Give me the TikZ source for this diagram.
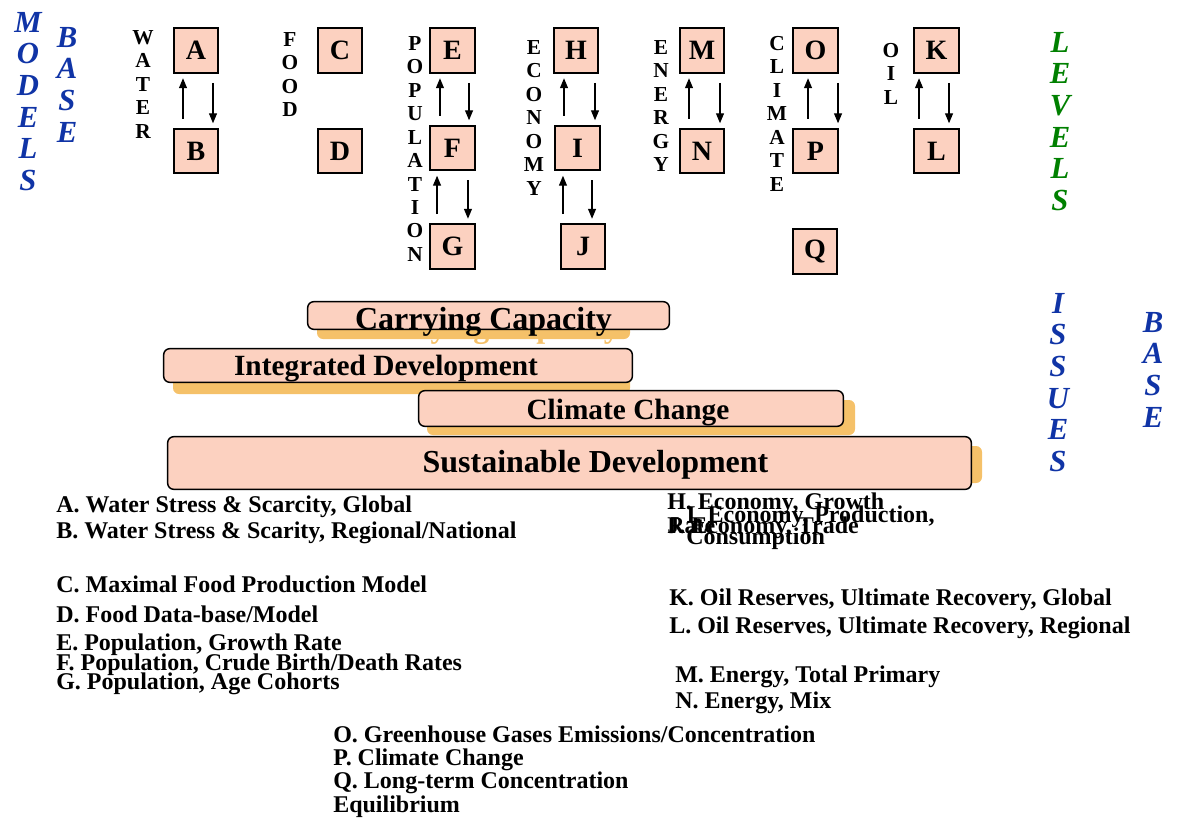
\documentclass[tikz,border=0pt]{standalone}
\usepackage{fontspec}
\setmainfont{Liberation Serif}
\usetikzlibrary{arrows.meta, positioning}
\definecolor{boxfill}{RGB}{252,209,192}
\definecolor{shadowfill}{RGB}{245,193,105}
\definecolor{baseblue}{RGB}{16,52,166}
\definecolor{levelgreen}{RGB}{0,128,0}

\begin{document}
\begin{tikzpicture}[
  x=0.75pt, y=-0.75pt,
  model/.style={rectangle, draw=black, line width=1.2pt, fill=boxfill, minimum size=33.4pt,
                inner sep=0pt, font=\fontsize{21}{21}\selectfont\bfseries},
  sector/.style={anchor=north, inner sep=0pt, align=center, font=\fontsize{16}{17.6}\selectfont\bfseries},
  axis/.style={anchor=north, inner sep=0pt, align=center, font=\fontsize{23}{23.7}\selectfont\bfseries\itshape},
  bar/.style={rectangle, draw=black, line width=1.1pt, fill=boxfill, rounded corners=4.5pt, inner sep=0pt},
  bartext/.style={anchor=base, inner sep=0pt},
  legend/.style={anchor=base west, inner sep=0pt, font=\fontsize{18}{18}\selectfont\bfseries},
  arrow/.style={-{Triangle[length=7.5pt, width=6pt]}, line width=0.9pt, shorten <=7pt, shorten >=3.5pt}
]
\useasboundingbox (0,0) rectangle (1178,821);

% side titles
\node[axis, text=baseblue] (models) at (28,12) {M\\O\\D\\E\\L\\S};
\node[axis, text=baseblue] (mbase) at (67,27) {B\\A\\S\\E};
\node[axis, text=levelgreen] (levels) at (1060,32) {L\\E\\V\\E\\L\\S};
\node[axis, text=baseblue] (issues) at (1058,293) {I\\S\\S\\U\\E\\S};
\node[axis, text=baseblue] (ibase) at (1153,312) {B\\A\\S\\E};

% sectors
\node[sector] (water) at (143,30) {W\\A\\T\\E\\R};
\node[sector] (food) at (290,32) {F\\O\\O\\D};
\node[sector] (pop) at (415,36) {P\\O\\P\\U\\L\\A\\T\\I\\O\\N};
\node[sector] (econ) at (534,40) {E\\C\\O\\N\\O\\M\\Y};
\node[sector] (energy) at (661,40) {E\\N\\E\\R\\G\\Y};
\node[sector] (climate) at (777,36) {C\\L\\I\\M\\A\\T\\E};
\node[sector] (oil) at (891,43) {O\\I\\L};

% models
\node[model] (A) at (196,50.5) {A};
\node[model] (B) at (196,151) {B};
\node[model] (C) at (340,50.5) {C};
\node[model] (D) at (340,151) {D};
\node[model] (E) at (452.5,50.5) {E};
\node[model] (F) at (452.5,148) {F};
\node[model] (G) at (452.5,246.5) {G};
\node[model] (H) at (576,50.5) {H};
\node[model] (I) at (577.5,148) {I};
\node[model] (J) at (583,246.5) {J};
\node[model] (M) at (702,50.5) {M};
\node[model] (N) at (702,151) {N};
\node[model] (O) at (815.5,50.5) {O};
\node[model] (P) at (815.5,151) {P};
\node[model] (Q) at (815,251.5) {Q};
\node[model] (K) at (936.5,50.5) {K};
\node[model] (L) at (936.5,151) {L};

\foreach \hi/\lo/\u/\d in {A/B/-9.75/12.75, E/F/-9.4/12.4, F/G/-11.6/11.6, H/I/-9/14.25,
                          I/J/-10.9/10.9, M/N/-9.75/13.5, O/P/-5.6/16.9, K/L/-13.1/9.4}{
  \draw[arrow] ([xshift=\u pt]\hi.south |- \lo.north) -- ([xshift=\u pt]\hi.south);
  \draw[arrow] ([xshift=\d pt]\hi.south) -- ([xshift=\d pt]\hi.south |- \lo.north);
}

% issues
\fill[shadowfill, rounded corners=4.5pt] (317,310) rectangle (630,339);
\node[bartext, text=shadowfill, font=\fontsize{24}{24}\selectfont\bfseries] (ccshadow) at (491.5,337) {Carrying Capacity};
\node[bar, minimum width=271.2pt, minimum height=20.7pt] (cc) at (488.5,315.5) {};
\node[bartext, font=\fontsize{24}{24}\selectfont\bfseries] (cctext) at (483.5,329) {Carrying Capacity};

\fill[shadowfill, rounded corners=4.5pt] (173,358) rectangle (630,394);
\node[bar, minimum width=351.5pt, minimum height=25.2pt] (id) at (398,365.5) {};
\node[bartext, font=\fontsize{22}{22}\selectfont\bfseries] (idtext) at (386,375.5) {Integrated Development};

\fill[shadowfill, rounded corners=4.5pt] (427,400) rectangle (855,435);
\node[bar, minimum width=318.5pt, minimum height=26.7pt] (clc) at (631,408.5) {};
\node[bartext, font=\fontsize{22}{22}\selectfont\bfseries] (clctext) at (628,419) {Climate Change};

\fill[shadowfill, rounded corners=4.5pt] (177,446) rectangle (982,483);
\node[bar, minimum width=602.7pt, minimum height=39.5pt] (sd) at (569.5,463) {};
\node[bartext, font=\fontsize{24}{24}\selectfont\bfseries] (sdtext) at (595.5,472) {Sustainable Development};

% legend
\node[legend] (legA) at (56,512) {A. Water Stress \& Scarcity, Global};
\node[legend] (legB) at (56,538) {B. Water Stress \& Scarity, Regional/National};
\node[legend] (legC) at (56,592) {C. Maximal Food Production Model};
\node[legend] (legD) at (56,622) {D. Food Data-base/Model};
\node[legend] (legE) at (56,650) {E. Population, Growth Rate};
\node[legend] (legF) at (56,670) {F. Population, Crude Birth/Death Rates};
\node[legend] (legG) at (56,689) {G. Population, Age Cohorts};
\node[legend] (legH) at (667,509) {H. Economy, Growth};
\node[legend] (legHb) at (667,533) {Rate};
\node[legend] (legI) at (686,522) {I. Economy, Production,};
\node[legend] (legIb) at (686,544) {Consumption};
\node[legend] (legJ) at (667,533) {J. Economy, Trade};
\node[legend] (legK) at (669,605) {K. Oil Reserves, Ultimate Recovery, Global};
\node[legend] (legL) at (669,633) {L. Oil Reserves, Ultimate Recovery, Regional};
\node[legend] (legM) at (675,682) {M. Energy, Total Primary};
\node[legend] (legN) at (675,708) {N. Energy, Mix};
\node[legend] (legO) at (333,742) {O. Greenhouse Gases Emissions/Concentration};
\node[legend] (legP) at (333,765) {P. Climate Change};
\node[legend] (legQ) at (333,788) {Q. Long-term Concentration};
\node[legend] (legQb) at (333,812) {Equilibrium};
\end{tikzpicture}
\end{document}
